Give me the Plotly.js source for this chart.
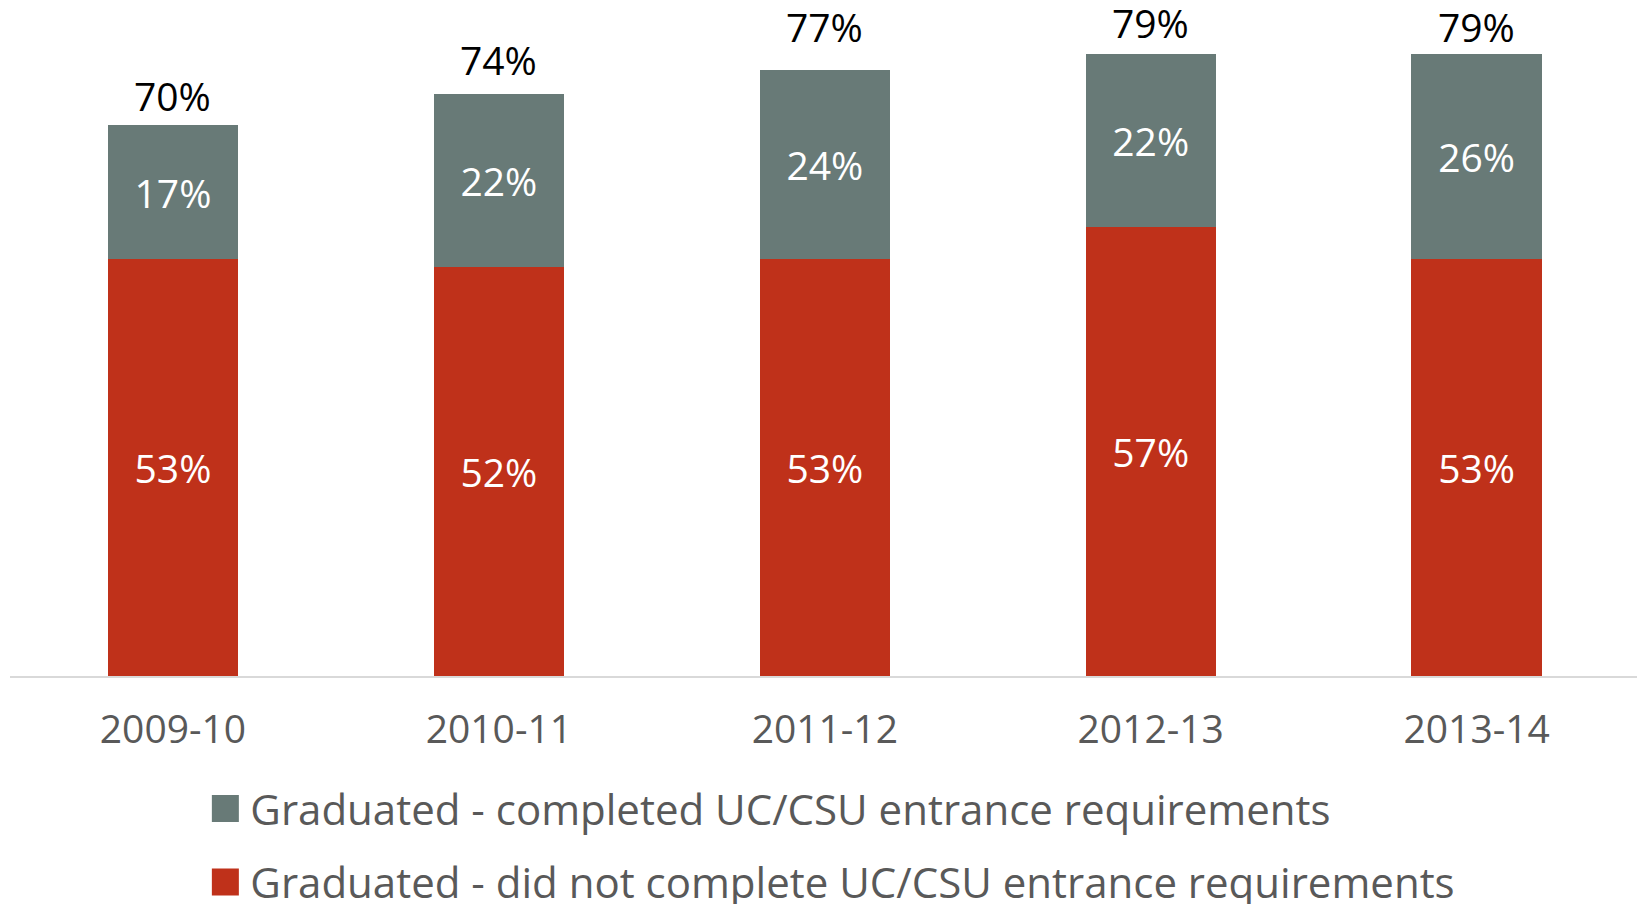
<!DOCTYPE html>
<html>
<head>
<meta charset="utf-8">
<script src="https://cdn.plot.ly/plotly-3.0.1.min.js"></script>
<style>
  html, body { margin: 0; padding: 0; background: #ffffff; }
  #chart { width: 1637px; height: 904px; }
</style>
</head>
<body>
<div id="chart"></div>
<script>
// ---- data ----
const years = ["2009-10", "2010-11", "2011-12", "2012-13", "2013-14"];
const notCompleted = [53, 52, 53, 57, 53];   // Graduated - did not complete UC/CSU entrance requirements
const completed = [17, 22, 24, 22, 26];      // Graduated - completed UC/CSU entrance requirements
const totals = [70, 74, 77, 79, 79];         // total graduation rate
const seriesNames = [
  "Graduated - did not complete UC/CSU entrance requirements",
  "Graduated - completed UC/CSU entrance requirements"
];

// ---- styling (kept separate from data) ----
const FONT = "'Open Sans', 'Noto Sans', sans-serif";
const RED = "#bf311a";
const GREY = "#687a77";
const totalLabelShift = [30, 34, 44, 32, 28];

const traces = [
  {
    type: "bar",
    name: seriesNames[0],
    x: years,
    y: notCompleted,
    marker: { color: RED },
    text: notCompleted.map(v => v + "%"),
    textposition: "inside",
    insidetextanchor: "middle",
    constraintext: "none",
    textfont: { family: FONT, size: 39, color: "#ffffff" },
    hoverinfo: "x+y+name",
    legendgroup: "b",
    legendrank: 2
  },
  {
    type: "bar",
    name: seriesNames[1],
    x: years,
    y: completed,
    marker: { color: GREY },
    text: completed.map(v => v + "%"),
    textposition: "inside",
    insidetextanchor: "middle",
    constraintext: "none",
    textfont: { family: FONT, size: 39, color: "#ffffff" },
    hoverinfo: "x+y+name",
    legendgroup: "a",
    legendrank: 1
  }
];

const annotations = years.map((yr, i) => ({
  x: yr,
  y: totals[i],
  xref: "x",
  yref: "y",
  text: totals[i] + "%",
  showarrow: false,
  yanchor: "middle",
  xanchor: "center",
  yshift: totalLabelShift[i],
  font: { family: FONT, size: 39, color: "#000000" }
}));

const layout = {
  width: 1637,
  height: 904,
  margin: { l: 10, r: 0, t: 0, b: 228, autoexpand: false },
  paper_bgcolor: "#ffffff",
  plot_bgcolor: "#ffffff",
  barmode: "stack",
  bargap: 0.6,
  font: { family: FONT, size: 39, color: "#595959" },
  xaxis: {
    type: "category",
    range: [-0.5, 4.492],
    showline: true,
    linecolor: "#d9d9d9",
    linewidth: 2,
    ticks: "",
    ticklabelstandoff: 18,
    automargin: false,
    tickfont: { family: FONT, size: 39, color: "#595959" },
    showgrid: false,
    zeroline: false,
    fixedrange: true
  },
  yaxis: {
    range: [0, 85.9],
    visible: false,
    showgrid: false,
    zeroline: false,
    fixedrange: true
  },
  showlegend: true,
  legend: {
    orientation: "v",
    traceorder: "grouped",
    tracegroupgap: 16,
    itemwidth: 40,
    x: 0.117,
    xanchor: "left",
    y: -0.146,
    yanchor: "top",
    bgcolor: "rgba(0,0,0,0)",
    font: { family: FONT, size: 42, color: "#595959" }
  },
  annotations: annotations
};

Plotly.newPlot("chart", traces, layout, { displayModeBar: false, staticPlot: true }).then(() => {
  // enlarge legend colour squares to match the reference
  document.querySelectorAll("#chart .legendpoints path").forEach(p => {
    p.setAttribute("d", "M13.5,13.5H-13.5V-13.5H13.5Z");
  });
});
</script>
</body>
</html>
